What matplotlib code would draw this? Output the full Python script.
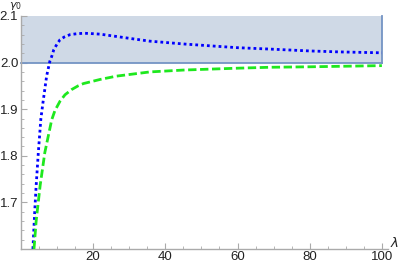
import matplotlib
matplotlib.use("Agg")
import matplotlib.pyplot as plt
from matplotlib.patches import Rectangle
from matplotlib.ticker import MultipleLocator

blue_x = [3.3, 3.8, 4.2, 4.8, 5.5, 6.1, 6.6, 7.1, 8.0, 8.5, 9.1, 10.0, 10.8, 12.0, 13.6, 15.5,
          17.5, 20, 22, 26.5, 31, 35.7, 45, 52.4, 60, 69, 80, 88, 100]
blue_y = [1.60, 1.68, 1.736, 1.807, 1.879, 1.915, 1.943, 1.971, 2.003, 2.013, 2.028, 2.040,
          2.049, 2.055, 2.060, 2.062, 2.063, 2.062, 2.061, 2.056, 2.051, 2.046, 2.040, 2.036,
          2.032, 2.029, 2.025, 2.023, 2.021]
green_x = [3.6, 4.2, 5.3, 6.6, 8.5, 9.4, 10.8, 12.2, 14.0, 15.8, 17.3, 22, 26.5, 35.7, 45, 52.4,
           60, 69, 80, 88, 100]
green_y = [1.60, 1.66, 1.736, 1.807, 1.877, 1.897, 1.917, 1.931, 1.942, 1.950, 1.955, 1.964,
           1.971, 1.980, 1.984, 1.986, 1.988, 1.990, 1.991, 1.992, 1.9935]
band_x = [0, 100]
band_y = [2.0, 2.1]
xticks = [20, 40, 60, 80, 100]
yticks = [1.7, 1.8, 1.9, 2.0, 2.1]

W, H = 403, 264
fig = plt.figure(figsize=(W / 100, H / 100), dpi=100)
ax = fig.add_axes([21 / W, (H - 249) / H, (388 - 21) / W, (249 - 16) / H])
ax.set_xlim(0, 101.7)
ax.set_ylim(1.6, 2.1)

ax.add_patch(Rectangle((band_x[0], band_y[0]), band_x[1] - band_x[0], band_y[1] - band_y[0],
                       facecolor="#cfd9e6", edgecolor="none", zorder=1, clip_on=False))
edge_kw = dict(color="#7494c4", linewidth=1.3, zorder=2, clip_on=False)
ax.plot([band_x[0], band_x[1]], [band_y[0], band_y[0]], **edge_kw)
ax.plot([band_x[1], band_x[1]], [band_y[0], band_y[1]], **edge_kw)

ax.plot(blue_x, blue_y, color="#0000ff", linestyle=(0, (1.0, 1.1)), linewidth=2.0, zorder=3)
ax.plot(green_x, green_y, color="#1ee81e", linestyle=(0, (3.0, 1.3)), linewidth=2.0, zorder=3)

for s in ["top", "right"]:
    ax.spines[s].set_visible(False)
for s in ["left", "bottom"]:
    ax.spines[s].set_color("#aaaaaa")
    ax.spines[s].set_linewidth(1.0)

ax.set_xticks(xticks)
ax.set_yticks(yticks)
ax.set_yticklabels([f"{v:.1f}" for v in yticks])
ax.xaxis.set_minor_locator(MultipleLocator(5))
ax.yaxis.set_minor_locator(MultipleLocator(0.02))
ax.tick_params(which="major", direction="in", length=4, color="#aaaaaa", labelsize=9.5,
               labelcolor="#222222")
ax.tick_params(axis="x", which="major", pad=1.5)
ax.tick_params(axis="y", which="major", pad=2.0)
ax.tick_params(which="minor", direction="in", length=2, color="#aaaaaa")
for lab in ax.get_xticklabels() + ax.get_yticklabels():
    lab.set_family("Liberation Sans")

fig.text(15 / W, 1 - 6.5 / H, r"$\gamma_0$", fontsize=8, ha="center", va="center", color="#222222")
fig.text(395 / W, 1 - 243 / H, r"$\lambda$", fontsize=9.5, ha="center", va="center", color="#222222")

fig.savefig("out.png", dpi=100)
